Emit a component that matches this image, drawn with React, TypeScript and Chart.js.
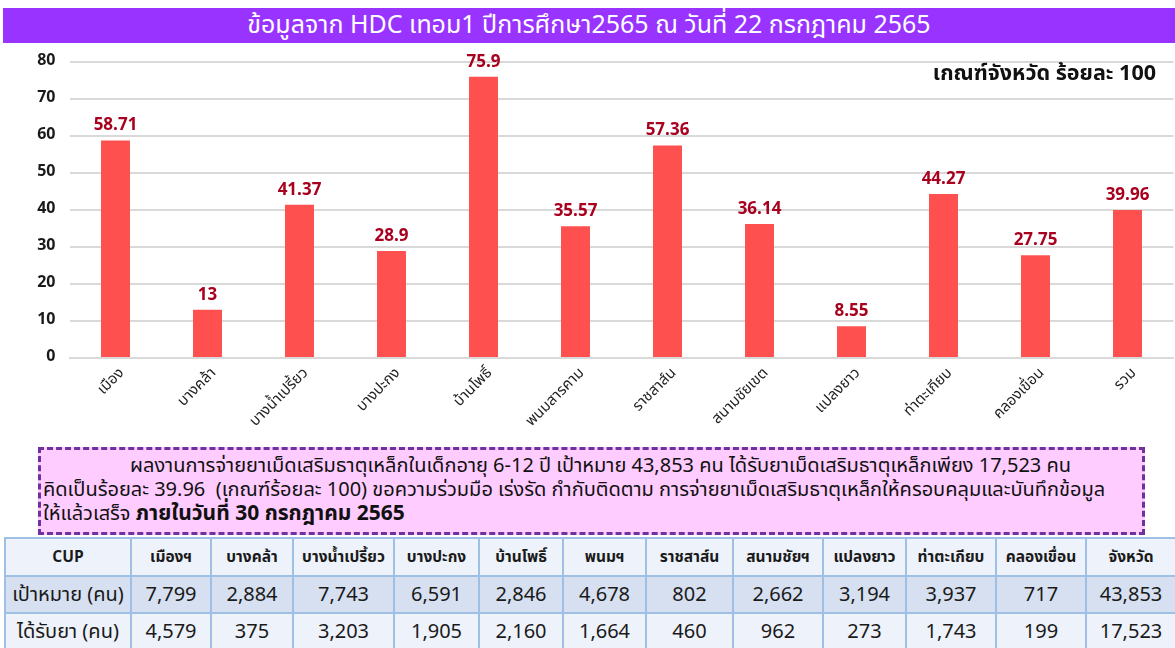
import React, { useEffect, useRef } from "react";
import { Chart, registerables } from "chart.js";

Chart.register(...registerables);

const categories = [
  "เมือง",
  "บางคล้า",
  "บางน้ำเปรี้ยว",
  "บางปะกง",
  "บ้านโพธิ์",
  "พนมสารคาม",
  "ราชสาส์น",
  "สนามชัยเขต",
  "แปลงยาว",
  "ท่าตะเกียบ",
  "คลองเขื่อน",
  "รวม",
];
const percentValues = [58.71, 13, 41.37, 28.9, 75.9, 35.57, 57.36, 36.14, 8.55, 44.27, 27.75, 39.96];
const yMin = 0;
const yMax = 80;
const yStep = 10;

const tableHeaders = [
  "CUP",
  "เมืองฯ",
  "บางคล้า",
  "บางน้ำเปรี้ยว",
  "บางปะกง",
  "บ้านโพธิ์",
  "พนมฯ",
  "ราชสาส์น",
  "สนามชัยฯ",
  "แปลงยาว",
  "ท่าตะเกียบ",
  "คลองเขื่อน",
  "จังหวัด",
];
const targetLabel = "เป้าหมาย (คน)";
const targetValues = ["7,799", "2,884", "7,743", "6,591", "2,846", "4,678", "802", "2,662", "3,194", "3,937", "717", "43,853"];
const receivedLabel = "ได้รับยา (คน)";
const receivedValues = ["4,579", "375", "3,203", "1,905", "2,160", "1,664", "460", "962", "273", "1,743", "199", "17,523"];

const colWidths = [126, 80, 82, 101, 85, 84, 83, 87, 90, 83, 90, 90, 90];

const FONT = "Tahoma, Verdana, 'Noto Sans Thai', 'Noto Sans', sans-serif";

const valueLabelPlugin = {
  id: "valueLabels",
  afterDatasetsDraw(chart: any) {
    const ctx = chart.ctx;
    const meta = chart.getDatasetMeta(0);
    const data = chart.data.datasets[0].data;
    ctx.save();
    ctx.font = `bold 17px ${FONT}`;
    ctx.fillStyle = "#A8001E";
    ctx.textAlign = "center";
    ctx.textBaseline = "bottom";
    meta.data.forEach((el: any, i: number) => {
      ctx.fillText(String(data[i]), el.x, el.y - 5);
    });
    ctx.restore();
  },
};

function BarChart() {
  const ref = useRef<HTMLCanvasElement | null>(null);
  useEffect(() => {
    if (!ref.current) return;
    const chart = new Chart(ref.current, {
      type: "bar",
      data: {
        labels: categories,
        datasets: [
          {
            data: percentValues,
            backgroundColor: "#FF5050",
            barPercentage: 0.315,
            categoryPercentage: 1,
          },
        ],
      },
      options: {
        animation: false,
        responsive: false,
        layout: { padding: { top: 3, right: 1.5, left: 0, bottom: 0 } },
        plugins: { legend: { display: false }, tooltip: { enabled: false } },
        scales: {
          x: {
            grid: { display: false, drawTicks: false },
            border: { display: true, color: "#D9D9D9", width: 2 },
            ticks: {
              minRotation: 45,
              maxRotation: 45,
              autoSkip: false,
              padding: 7,
              labelOffset: 7,
              color: "#222",
              font: { size: 15, family: FONT },
            },
            afterFit: (scale: any) => {
              scale.height = 87;
            },
          },
          y: {
            min: yMin,
            max: yMax,
            grid: { color: "#D9D9D9", lineWidth: 2, drawTicks: false },
            border: { display: false },
            ticks: {
              stepSize: yStep,
              padding: 14,
              color: "#1A1A1A",
              font: { size: 16, weight: "bold", family: FONT },
            },
            afterFit: (scale: any) => {
              scale.width = 69.5;
            },
          },
        },
      },
      plugins: [valueLabelPlugin],
    } as any);
    return () => chart.destroy();
  }, []);
  return (
    <canvas
      ref={ref}
      width={1175}
      height={407}
      style={{ position: "absolute", left: 0, top: 38, width: 1175, height: 407 }}
    />
  );
}

export default function App() {
  const cellBase: React.CSSProperties = {
    border: "2px solid #9DC0E4",
    textAlign: "center",
    padding: 0,
    color: "#1A1A1A",
    whiteSpace: "nowrap",
    overflow: "hidden",
  };
  return (
    <div
      style={{
        position: "absolute",
        left: 0,
        top: 0,
        width: 1175,
        height: 648,
        background: "#FFFFFF",
        overflow: "hidden",
        fontFamily: FONT,
      }}
    >
      <div
        style={{
          position: "absolute",
          left: 3,
          top: 8,
          width: 1172,
          height: 35,
          background: "#9933FF",
          color: "#FFFFFF",
          fontSize: 25,
          lineHeight: "35px",
          textAlign: "center",
          whiteSpace: "nowrap",
        }}
      >
        ข้อมูลจาก HDC เทอม1 ปีการศึกษา2565 ณ วันที่ 22 กรกฎาคม 2565
      </div>

      <BarChart />

      <div
        style={{
          position: "absolute",
          right: 19,
          top: 60,
          fontSize: 21.5,
          lineHeight: "28px",
          fontWeight: "bold",
          color: "#111",
          whiteSpace: "nowrap",
        }}
      >
        เกณฑ์จังหวัด ร้อยละ 100
      </div>

      <div
        style={{
          position: "absolute",
          left: 38,
          top: 447,
          width: 1101,
          height: 78,
          border: "3px dashed #7030A0",
          background: "#FFCCFF",
          fontSize: 20,
          lineHeight: "24px",
          color: "#111",
          paddingTop: 4,
          boxSizing: "content-box",
        }}
      >
        <div style={{ paddingLeft: 89, whiteSpace: "nowrap" }}>
          ผลงานการจ่ายยาเม็ดเสริมธาตุเหล็กในเด็กอายุ 6-12 ปี เป้าหมาย 43,853 คน ได้รับยาเม็ดเสริมธาตุเหล็กเพียง 17,523 คน
        </div>
        <div style={{ paddingLeft: 2, whiteSpace: "nowrap" }}>
          คิดเป็นร้อยละ 39.96&nbsp; (เกณฑ์ร้อยละ 100) ขอความร่วมมือ เร่งรัด กำกับติดตาม การจ่ายยาเม็ดเสริมธาตุเหล็กให้ครอบคลุมและบันทึกข้อมูล
        </div>
        <div style={{ paddingLeft: 2, whiteSpace: "nowrap" }}>
          ให้แล้วเสร็จ <b style={{ fontSize: 21 }}>ภายในวันที่ 30 กรกฎาคม 2565</b>
        </div>
      </div>

      <table
        style={{
          position: "absolute",
          left: 4,
          top: 537,
          borderCollapse: "collapse",
          tableLayout: "fixed",
          width: 1171,
          fontFamily: FONT,
        }}
      >
        <colgroup>
          {colWidths.map((w, i) => (
            <col key={i} style={{ width: w }} />
          ))}
        </colgroup>
        <tbody>
          <tr style={{ height: 38, background: "#EEF2FA" }}>
            {tableHeaders.map((h, i) => (
              <td key={i} style={{ ...cellBase, fontWeight: "bold", fontSize: 15.5 }}>
                {h}
              </td>
            ))}
          </tr>
          <tr style={{ height: 37, background: "#D6E0F1" }}>
            <td style={{ ...cellBase, fontSize: 20 }}>{targetLabel}</td>
            {targetValues.map((v, i) => (
              <td key={i} style={{ ...cellBase, fontSize: 20 }}>
                {v}
              </td>
            ))}
          </tr>
          <tr style={{ height: 37, background: "#EEF2FA" }}>
            <td style={{ ...cellBase, fontSize: 20, borderBottom: "2px solid #555" }}>{receivedLabel}</td>
            {receivedValues.map((v, i) => (
              <td key={i} style={{ ...cellBase, fontSize: 20, borderBottom: "2px solid #555" }}>
                {v}
              </td>
            ))}
          </tr>
        </tbody>
      </table>
    </div>
  );
}
